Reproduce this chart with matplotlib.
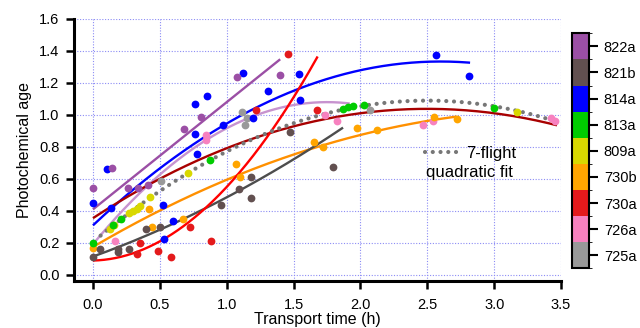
import numpy as np
import matplotlib.pyplot as plt
from matplotlib.colors import ListedColormap, BoundaryNorm
from matplotlib.cm import ScalarMappable

plt.rcParams['font.family'] = ['Liberation Sans', 'DejaVu Sans']

# flights, bottom to top as in the colour bar
flights = ["725a", "726a", "730a", "730b", "809a", "813a", "814a", "821b", "822a"]
flight_colors = ["#999999", "#f781bf", "#e41a1c", "#ffa500", "#d8d800",
                 "#00cc00", "#0000ff", "#625050", "#9b4fa5"]

# measured points: transport time (h), photochemical age
t_822a = [0.00, 0.14, 0.26, 0.34, 0.41, 0.68, 0.81, 1.075, 1.395]
a_822a = [0.545, 0.67, 0.545, 0.545, 0.565, 0.915, 0.985, 1.24, 1.25]

t_821b = [0.00, 0.055, 0.19, 0.19, 0.27, 0.40, 0.50, 0.96, 1.09, 1.18, 1.185, 1.47, 1.795]
a_821b = [0.115, 0.16, 0.145, 0.165, 0.165, 0.29, 0.30, 0.44, 0.54, 0.615, 0.48, 0.895, 0.675]

t_814a = [0.00, 0.107, 0.137, 0.52, 0.53, 0.60, 0.76, 0.78, 0.76, 0.853, 0.97,
          1.12, 1.20, 1.307, 1.544, 1.55, 2.563, 2.815]
a_814a = [0.45, 0.66, 0.42, 0.44, 0.225, 0.34, 0.88, 0.755, 1.07, 1.117, 0.935,
          1.26, 0.98, 1.152, 1.256, 1.093, 1.377, 1.246]

t_813a = [0.00, 0.15, 0.21, 0.875, 1.868, 1.91, 1.948, 2.03, 3.00]
a_813a = [0.20, 0.31, 0.35, 0.72, 1.04, 1.048, 1.054, 1.06, 1.046]

t_809a = [0.125, 0.16, 0.27, 0.30, 0.33, 0.35, 0.43, 0.71, 3.17]
a_809a = [0.29, 0.31, 0.385, 0.40, 0.415, 0.43, 0.485, 0.64, 1.017]

t_730b = [0.00, 0.42, 0.445, 0.67, 1.072, 1.10, 1.65, 1.72, 1.976, 2.125, 2.553, 2.72]
a_730b = [0.17, 0.41, 0.30, 0.35, 0.692, 0.615, 0.832, 0.797, 0.918, 0.905, 0.99, 0.977]

t_730a = [0.33, 0.355, 0.487, 0.587, 0.722, 0.885, 1.217, 1.46, 1.678]
a_730a = [0.13, 0.20, 0.152, 0.113, 0.302, 0.213, 1.032, 1.38, 1.028]

t_726a = [0.167, 0.848, 0.848, 1.736, 1.823, 2.465, 2.545, 3.426, 3.456]
a_726a = [0.21, 0.873, 0.846, 1.0, 0.965, 0.937, 0.96, 0.98, 0.965]

t_725a = [0.505, 1.115, 1.135, 1.15, 2.07]
a_725a = [0.588, 1.017, 0.938, 0.983, 1.033]

# fitted curves: polynomial coefficients (c0, c1, c2) and time range
fit_822a = [0.41, 0.67, 0.0]
fit_822a_t = [0.0, 1.40]
fit_814a = [0.31, 0.788, -0.1516]
fit_814a_t = [0.0, 2.82]
fit_lilac = [0.192, 1.015, -0.29]
fit_lilac_t = [0.0, 1.92]
fit_darkred = [0.355, 0.5465, -0.1093]
fit_darkred_t = [0.0, 3.47]
fit_730a = [0.09, 0.02, 0.44]
fit_730a_t = [0.0, 1.68]
fit_730b = [0.175, 0.49, -0.07]
fit_730b_t = [0.0, 2.72]
fit_821b = [0.115, 0.30, 0.07]
fit_821b_t = [0.0, 1.87]
fit_7flight = [0.206, 0.707, -0.1414]
fit_7flight_t = [0.057, 3.42]


def curve(coef, trange):
    t = np.linspace(trange[0], trange[1], 200)
    return t, coef[0] + coef[1] * t + coef[2] * t ** 2


fig = plt.figure(figsize=(6.4, 3.28), dpi=100)
ax = fig.add_axes([0.1156, 0.1442, 0.761, 0.798])

# fit lines
fit_lines = [
    (fit_lilac, fit_lilac_t, "#c793cf"),
    (fit_822a, fit_822a_t, "#9b4fa5"),
    (fit_814a, fit_814a_t, "#0000ff"),
    (fit_darkred, fit_darkred_t, "#a80000"),
    (fit_730b, fit_730b_t, "#ff9000"),
    (fit_821b, fit_821b_t, "#4d4d4d"),
    (fit_730a, fit_730a_t, "#ff0000"),
]
for coef, trange, col in fit_lines:
    t, a = curve(coef, trange)
    ax.plot(t, a, color=col, lw=1.7, zorder=2, solid_capstyle='butt')

t, a = curve(fit_7flight, fit_7flight_t)
dotted = (0, (0.01, 1.85))
ax.plot(t, a, color="#777777", lw=3.0, ls=dotted, dash_capstyle='round', zorder=2.5)

# points
groups = [
    (t_725a, a_725a), (t_726a, a_726a), (t_730a, a_730a), (t_730b, a_730b),
    (t_809a, a_809a), (t_813a, a_813a), (t_814a, a_814a), (t_821b, a_821b),
    (t_822a, a_822a),
]
for (t, a), col in zip(groups, flight_colors):
    ax.plot(t, a, 'o', color=col, ms=5.6, mew=0, zorder=3)

ax.set_xlim(-0.142, 3.5)
ax.set_ylim(-0.036, 1.6)
ax.set_xticks(np.arange(0, 3.51, 0.5))
ax.set_yticks(np.arange(0, 1.61, 0.2))
ax.xaxis.set_major_formatter(plt.FormatStrFormatter('%.1f'))
ax.yaxis.set_major_formatter(plt.FormatStrFormatter('%.1f'))
ax.grid(True, color="#8c8cf5", lw=0.8, ls=(0, (1, 1.5)))
ax.set_axisbelow(True)
for side in ["top", "right"]:
    ax.spines[side].set_visible(False)
for side in ["left", "bottom"]:
    ax.spines[side].set_linewidth(2.2)
ax.tick_params(direction='out', length=5.5, width=1.8, labelsize=10.5)
ax.tick_params(axis='x', pad=7)
ax.tick_params(axis='y', pad=5)
ax.set_xlabel("Transport time (h)", fontsize=11.5, labelpad=0)
ax.set_ylabel("Photochemical age", fontsize=11.5, labelpad=5)

# legend for the 7-flight fit
h, = ax.plot([], [], color="#777777", lw=3.0, ls=dotted, dash_capstyle='round')
ax.legend([h], ["7-flight"], loc='center left', bbox_to_anchor=(0.721, 0.485),
          frameon=False, fontsize=12, handlelength=2.0, handletextpad=0.45,
          borderpad=0, borderaxespad=0)
ax.text(0.722, 0.413, "quadratic fit", transform=ax.transAxes, fontsize=12,
        va='center', ha='left')

# discrete colour bar of flights
cax = fig.add_axes([0.894, 0.182, 0.0266, 0.7165])
cmap = ListedColormap(flight_colors)
norm = BoundaryNorm(np.arange(len(flights) + 1), len(flights))
cb = fig.colorbar(ScalarMappable(norm=norm, cmap=cmap), cax=cax,
                  ticks=np.arange(len(flights)) + 0.5)
cb.set_ticklabels(flights)
cb.outline.set_linewidth(1.5)
cax.tick_params(length=6.5, width=1.5, labelsize=10.5, pad=4)

fig.savefig("out.png", dpi=100)
